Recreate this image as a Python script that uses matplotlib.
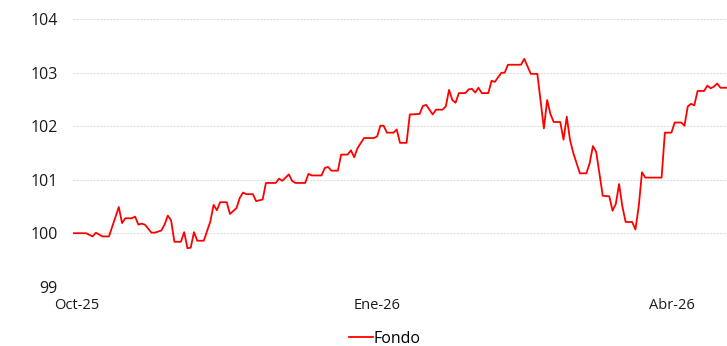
import matplotlib
matplotlib.use("Agg")
import matplotlib.pyplot as plt
import matplotlib.dates as mdates
import pandas as pd

# Days relative to 2025-10-01 and fund values
days = [-1, 3, 5, 6, 8, 10, 12, 13, 14, 15, 17, 18, 19, 20, 21, 23, 24, 26, 27, 28,
        29, 30, 32, 33, 34, 35, 36, 37, 39, 41, 42, 43, 44, 46, 47, 49, 50, 51, 52, 54,
        55, 57, 58, 61, 62, 63, 65, 66, 67, 70, 71, 72, 75, 76, 77, 78, 80, 81, 83, 84,
        85, 86, 88, 91, 92, 93, 94, 95, 97, 98, 99, 101, 102, 105, 106, 107, 109, 110, 112, 113,
        114, 115, 116, 117, 119, 120, 121, 122, 123, 124, 126, 127, 128, 130, 131, 132, 136, 137, 139, 141,
        143, 144, 145, 146, 148, 149, 150, 151, 152, 154, 156, 157, 158, 159, 161, 163, 164, 165, 166, 167,
        168, 170, 171, 172, 173, 174, 179, 180, 182, 183, 185, 186, 187, 188, 189, 190, 192, 193, 194, 195,
        196, 197, 199]
values = [100.00, 100.00, 99.94, 100.01, 99.94, 99.94, 100.31, 100.49, 100.19, 100.28, 100.28, 100.31, 100.16, 100.18, 100.16, 100.01, 100.01, 100.05, 100.16, 100.33,
          100.24, 99.84, 99.84, 100.02, 99.72, 99.73, 100.02, 99.86, 99.86, 100.22, 100.53, 100.43, 100.58, 100.58, 100.36, 100.47, 100.66, 100.76, 100.73, 100.73,
          100.60, 100.63, 100.94, 100.94, 101.02, 100.98, 101.10, 100.98, 100.94, 100.94, 101.11, 101.08, 101.08, 101.22, 101.24, 101.17, 101.17, 101.47, 101.47, 101.55,
          101.42, 101.59, 101.78, 101.78, 101.81, 102.01, 102.01, 101.88, 101.88, 101.94, 101.69, 101.69, 102.22, 102.23, 102.38, 102.40, 102.22, 102.31, 102.31, 102.37,
          102.68, 102.49, 102.44, 102.62, 102.62, 102.69, 102.70, 102.63, 102.72, 102.62, 102.62, 102.85, 102.83, 103.00, 103.00, 103.15, 103.15, 103.26, 102.98, 102.98,
          101.96, 102.49, 102.23, 102.08, 102.08, 101.75, 102.18, 101.74, 101.50, 101.12, 101.12, 101.31, 101.63, 101.52, 100.70, 100.69, 100.42, 100.55, 100.92, 100.50,
          100.21, 100.21, 100.07, 100.50, 101.14, 101.04, 101.04, 101.88, 101.88, 102.07, 102.07, 102.01, 102.37, 102.42, 102.39, 102.66, 102.66, 102.76, 102.71, 102.74,
          102.80, 102.72, 102.72]

series_name = "Fondo"
tick_dates = ["2025-10-01", "2026-01-01", "2026-04-01"]
tick_labels = ["Oct-25", "Ene-26", "Abr-26"]
y_ticks = [99, 100, 101, 102, 103, 104]

plt.rcParams['font.family'] = ['Open Sans', 'DejaVu Sans']

dates = pd.Timestamp("2025-10-01") + pd.to_timedelta(days, unit="D")

fig = plt.figure(figsize=(7.27, 3.46), dpi=100)
ax = fig.add_axes([73/727, 1 - 286.7/346, 1 - 73/727, (286.7 - 19.3)/346])

line, = ax.plot(dates, values, color="#ff0000", lw=1.3, label=series_name)

ax.set_xlim(dates[0], dates[-1])
ax.set_ylim(99, 104)
ax.set_yticks(y_ticks)
ax.set_xticks(pd.to_datetime(tick_dates))
ax.set_xticklabels(tick_labels)

for s in ax.spines.values():
    s.set_visible(False)
ax.grid(axis="y", color="#dedede", linestyle=(0, (2, 1)), lw=0.8)
ax.tick_params(axis="y", length=0, pad=11, labelsize=11.5, labelcolor="#1a1a1a")
ax.tick_params(axis="x", length=0, pad=8, labelsize=10.5, labelcolor="#1a1a1a")

fig.legend(handles=[line], loc="center", bbox_to_anchor=(385/727, 1 - 339/346),
           frameon=False, fontsize=11.5, handlelength=1.5, handletextpad=0.05,
           borderpad=0, borderaxespad=0)

fig.savefig("out.png", dpi=100)
